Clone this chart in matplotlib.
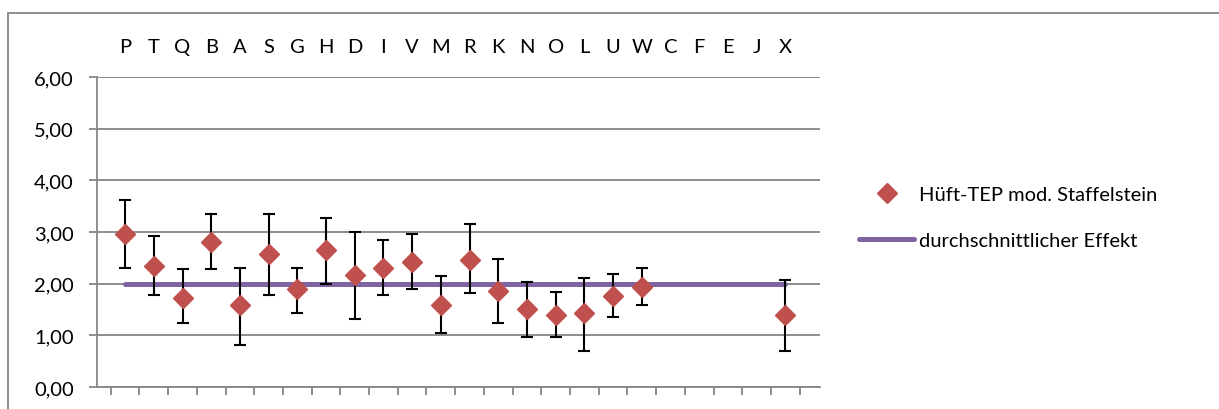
import numpy as np
import matplotlib
matplotlib.use("Agg")
from matplotlib import pyplot as plt
from matplotlib.patches import Rectangle
from matplotlib.lines import Line2D

plt.rcParams['font.family'] = ['Lato', 'DejaVu Sans']

nan = np.nan

categories = ['P', 'T', 'Q', 'B', 'A', 'S', 'G', 'H', 'D', 'I', 'V', 'M', 'R',
              'K', 'N', 'O', 'L', 'U', 'W', 'C', 'F', 'E', 'J', 'X']

effect = [2.97, 2.35, 1.73, 2.81, 1.58, 2.58, 1.89, 2.66, 2.16, 2.31, 2.42, 1.58,
          2.46, 1.85, 1.51, 1.39, 1.43, 1.77, 1.93, nan, nan, nan, nan, 1.39]
upper = [3.62, 2.92, 2.28, 3.35, 2.31, 3.35, 2.31, 3.27, 3.00, 2.85, 2.97, 2.15,
         3.16, 2.47, 2.04, 1.84, 2.11, 2.19, 2.31, nan, nan, nan, nan, 2.08]
lower = [2.31, 1.78, 1.24, 2.28, 0.82, 1.78, 1.44, 2.00, 1.32, 1.78, 1.90, 1.05,
         1.82, 1.24, 0.97, 0.97, 0.70, 1.35, 1.59, nan, nan, nan, nan, 0.70]
avg_effect = [2.00, 2.00, 2.00, 2.00, 2.00, 2.00, 2.00, 2.00, 2.00, 2.00, 2.00, 2.00,
              2.00, 2.00, 2.00, 2.00, 2.00, 2.00, 2.00, 2.00, 2.00, 2.00, 2.00, 2.00]

series_label = 'Hüft-TEP mod. Staffelstein'
avg_label = 'durchschnittlicher Effekt'

red = '#C0504D'
purple = '#8064A2'
grey = '#868686'
fs = 14.5

W, H = 1219, 410
fig = plt.figure(figsize=(W / 100, H / 100), dpi=100)

# axes box in pixels: left 97, right 820, top 78, bottom 388
ax = fig.add_axes([97 / W, 1 - 388 / H, (820 - 97) / W, (388 - 78) / H])

x = np.arange(len(categories))
eff = np.array(effect)
yerr = np.array([eff - np.array(lower), np.array(upper) - eff])

ax.plot(x, avg_effect, color=purple, lw=3.6, solid_capstyle='round', zorder=2)
ax.errorbar(x, eff, yerr=yerr, fmt='none', ecolor='black', elinewidth=1.5,
            capsize=4.3, capthick=1.5, zorder=3)
ax.plot(x, eff, ls='none', marker='D', ms=10.5, color=red, mec=red, zorder=4)

ax.set_ylim(0, 6)
ax.set_xlim(-0.98, 24.21)
ax.set_yticks(np.arange(0, 7, 1))
ax.set_yticklabels([f'{v:.2f}'.replace('.', ',') for v in range(7)], fontsize=fs)
ax.grid(axis='y', color=grey, lw=1.3)
ax.set_axisbelow(True)

ax.set_xticks(np.arange(len(categories) + 1) - 0.5)
ax.set_xticklabels([])
ax.tick_params(axis='x', direction='out', length=5.5, width=1.3, color=grey)
ax.tick_params(axis='y', direction='out', length=5.8, width=1.3, color=grey, pad=11)

for side in ('top', 'right'):
    ax.spines[side].set_visible(False)
for side in ('left', 'bottom'):
    ax.spines[side].set_color(grey)
    ax.spines[side].set_linewidth(1.3)

top = ax.secondary_xaxis('top')
top.set_xticks(x)
top.set_xticklabels(categories, fontsize=fs)
top.tick_params(length=0, pad=16)
top.spines['top'].set_visible(False)

handles = [
    Line2D([], [], ls='none', marker='D', ms=10.5, color=red),
    Line2D([], [], color=purple, lw=3.6, solid_capstyle='round'),
]
fig.legend(handles, [series_label, avg_label], loc='upper left',
           bbox_to_anchor=(851 / W, 1 - 179 / H), frameon=False, fontsize=fs,
           handlelength=2.75, handletextpad=0.25, labelspacing=1.45, borderaxespad=0)

# chart frame, cut off at right and bottom
fig.add_artist(Rectangle((8 / W, -0.05), 1.1, 1 - 14 / H + 0.05,
                         transform=fig.transFigure, fill=False, ec=grey, lw=1.3,
                         clip_on=False))

fig.savefig('out.png', dpi=100)
